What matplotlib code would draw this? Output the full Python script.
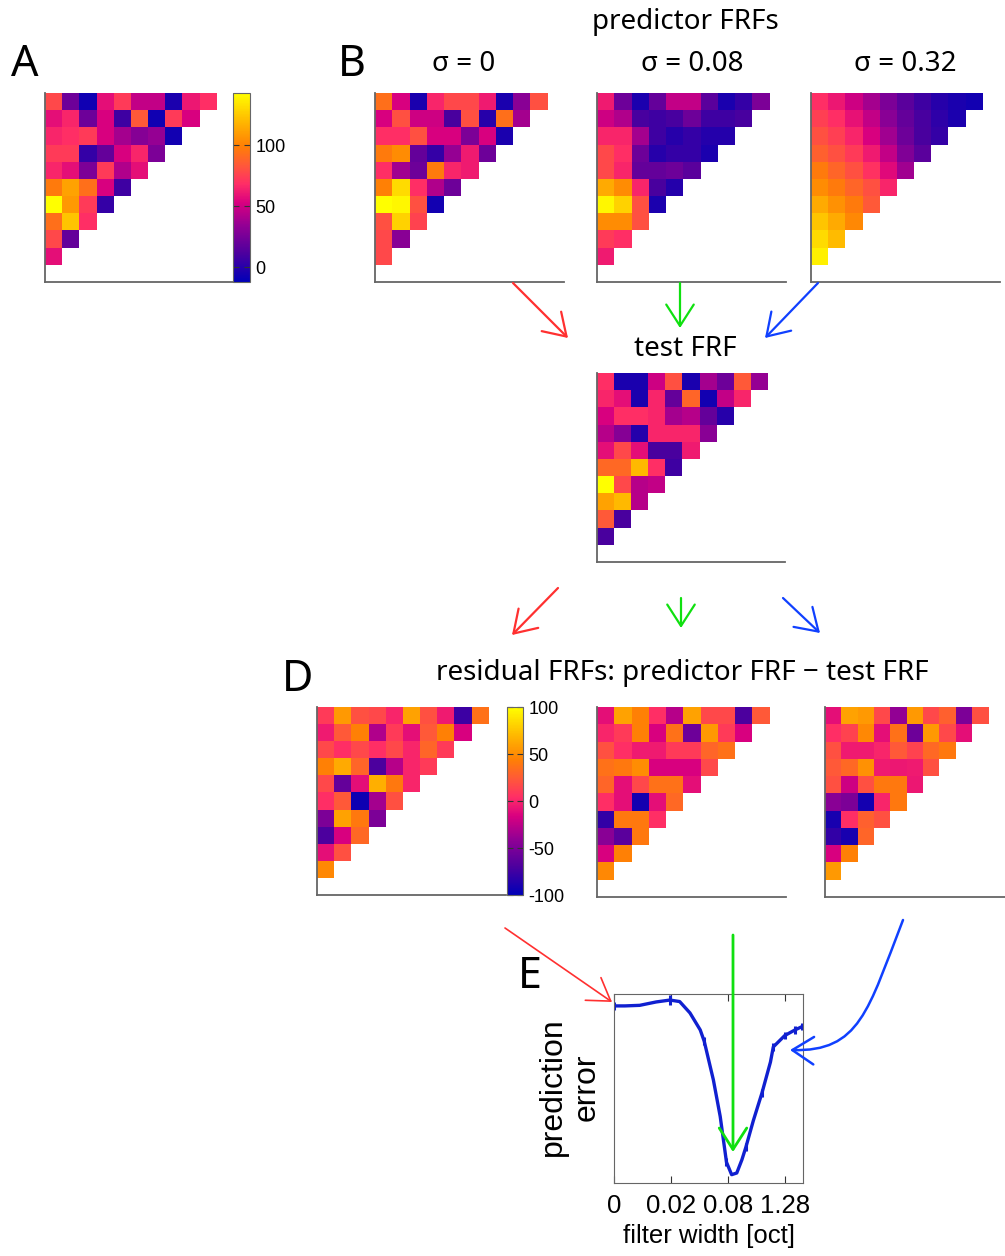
import numpy as np
import matplotlib
matplotlib.use("Agg")
import matplotlib.pyplot as plt
from matplotlib.colors import LinearSegmentedColormap
from matplotlib.patches import FancyArrowPatch
from matplotlib.path import Path

plt.rcParams["axes.unicode_minus"] = False

# ---- data (rows of the upper-left triangle, top row first) ----
frf_A = [
    [78, 22, -7, 58, 73, 47, 47, -3, 61, 69],
    [58, 66, 22, 53, 7, 84, -7, 73, 53],
    [66, 69, 73, 53, 39, 30, 35, -6],
    [73, 73, 4, 19, 53, 66, 27],
    [66, 58, 27, 73, 42, 58],
    [97, 112, 93, 53, 7],
    [143, 109, 73, 4],
    [93, 124, 69],
    [78, 19],
    [58],
]
frf_sigma0 = [
    [93, 53, -4, 66, 78, 78, 62, -4, 31, 81],
    [53, 81, 50, 50, 11, 81, 0, 93, 39],
    [69, 69, 81, 53, 53, 27, 53, -4],
    [97, 104, 19, 4, 35, 62, 22],
    [69, 38, 22, 97, 66, 62],
    [100, 131, 69, 42, 22],
    [143, 140, 81, -6],
    [81, 128, 76],
    [78, 31],
    [78],
]
frf_sigma008 = [
    [62, 22, -3, 19, 47, 47, 16, -4, 4, 27],
    [50, 42, 10, 7, 10, 22, 7, 7, 10],
    [66, 66, 39, 7, 0, 4, -1, -1],
    [78, 69, 22, 0, 4, 4, -3],
    [78, 66, 19, 19, 22, 16],
    [115, 104, 66, 11, -1],
    [140, 128, 81, -3],
    [104, 104, 81],
    [73, 69],
    [62],
]
frf_sigma032 = [
    [69, 61, 50, 39, 27, 16, 7, 0, -4, -6],
    [75, 69, 59, 47, 31, 19, 10, 2, -3],
    [81, 75, 66, 53, 38, 22, 11, 4],
    [87, 81, 73, 62, 47, 28, 16],
    [97, 89, 81, 70, 56, 38],
    [104, 97, 89, 81, 66],
    [115, 106, 97, 84],
    [124, 115, 103],
    [131, 121],
    [138],
]
frf_test = [
    [69, -4, -4, 50, 81, -4, 39, 22, 84, 35],
    [66, 58, -3, 66, 19, 89, -6, 47, 66],
    [53, 69, 69, 66, 39, 44, 19, 0],
    [44, 30, -1, 66, 66, 66, 31],
    [58, 78, 58, 11, 11, 62],
    [90, 90, 120, 69, 7],
    [143, 78, 44, 47],
    [112, 120, 44],
    [84, 11],
    [11],
]
resid_sigma0 = [
    [10, 56, 20, 16, 0, 60, 20, -4, -76, 36],
    [-4, 24, 44, -30, 10, -10, 24, 44, -16],
    [16, 4, 16, 4, 16, 0, 30, 10],
    [44, 64, 30, -70, -28, 0, 10],
    [16, -60, -10, 66, 40, 0],
    [4, 24, -94, -34, 20],
    [-50, 60, 40, -50],
    [-70, -16, 32],
    [-10, 20],
    [48],
]
resid_sigma008 = [
    [-10, 60, 44, 4, -28, 60, 16, 16, -70, 24],
    [0, 10, 44, -16, 36, -56, 56, 10, -16],
    [20, 4, -4, -4, 10, 10, 30, 36],
    [36, 40, 50, -16, -16, -16, 16],
    [30, -10, 16, 36, 36, -10],
    [4, -10, -92, -10, 32],
    [-80, 40, 40, 4],
    [-44, -64, 40],
    [-16, 44],
    [48],
]
resid_sigma032 = [
    [-10, 60, 56, 16, -40, 56, 16, 28, -50, 20],
    [4, 14, 48, -10, 36, -56, 56, 16, -10],
    [20, -4, -4, 0, 24, 14, 32, 40],
    [24, 32, 52, -4, -6, -4, 20],
    [20, -20, 20, 40, 40, -6],
    [-44, -50, -92, 0, 40],
    [-90, 4, 28, 20],
    [-80, -90, 30],
    [-16, 44],
    [56],
]

sigma_labels = ["σ = 0", "σ = 0.08", "σ = 0.32"]
rate_ticks = [0, 50, 100]
resid_ticks = [-100, -50, 0, 50, 100]

filt_pos = [0, 0.19, 0.45, 0.74, 0.98, 1.15, 1.33, 1.51, 1.58, 1.74, 1.86, 1.97,
            2.06, 2.15, 2.24, 2.31, 2.44, 2.59, 2.74, 2.79, 2.99, 3.17, 3.29]
pred_err = [0.937, 0.937, 0.94, 0.958, 0.968, 0.96, 0.9, 0.81, 0.75, 0.546, 0.352, 0.11,
            0.044, 0.053, 0.123, 0.19, 0.33, 0.475, 0.64, 0.72, 0.78, 0.81, 0.827]
pred_sem = [0.02, 0, 0, 0, 0.025, 0, 0, 0, 0.02, 0, 0, 0.02,
            0, 0, 0, 0.02, 0, 0.02, 0, 0.02, 0.02, 0.02, 0.02]
filt_tick_labels = ["0", "0.02", "0.08", "1.28"]

# ---- colormap ----
cmap = LinearSegmentedColormap.from_list("frf", [
    (0.0, (0.0, 0.0, 0.72)),
    (0.15, (0.30, 0.0, 0.62)),
    (0.30, (0.58, 0.0, 0.58)),
    (0.42, (0.85, 0.0, 0.50)),
    (0.52, (1.0, 0.18, 0.40)),
    (0.62, (1.0, 0.35, 0.22)),
    (0.72, (1.0, 0.50, 0.02)),
    (0.85, (1.0, 0.72, 0.0)),
    (1.0, (1.0, 1.0, 0.0)),
])
cmap.set_bad("white")

W, H = 1005, 1256
fig = plt.figure(figsize=(W / 100, H / 100), dpi=100)
title_font = "Noto Sans"
num_font = "Liberation Sans"
spine_col = "#666666"


def px_axes(x, y, w, h):
    return fig.add_axes([x / W, 1 - (y + h) / H, w / W, h / H])


def to_grid(rows):
    g = np.full((11, 11), np.nan)
    for r, row in enumerate(rows):
        g[r, :len(row)] = row
    return g


def heat(x, y, rows, vmin, vmax, w=189, h=189):
    ax = px_axes(x, y, w, h)
    im = ax.imshow(to_grid(rows), cmap=cmap, vmin=vmin, vmax=vmax,
                   extent=(0, 11, 11, 0), aspect="auto", interpolation="nearest")
    ax.set_xticks([])
    ax.set_yticks([])
    for s in ["top", "right"]:
        ax.spines[s].set_visible(False)
    for s in ["left", "bottom"]:
        ax.spines[s].set_color(spine_col)
        ax.spines[s].set_linewidth(1.3)
    return im


def cbar(im, x, y, w, h, ticks):
    cax = px_axes(x, y, w, h)
    cb = fig.colorbar(im, cax=cax, ticks=ticks)
    cb.outline.set_edgecolor(spine_col)
    cax.tick_params(direction="in", length=4, left=True, right=True,
                    color="#333333", labelsize=13, pad=4)
    for t in cax.get_yticklabels():
        t.set_fontfamily(num_font)


# panel A
imA = heat(45, 93, frf_A, -12, 143, w=188)
cbar(imA, 233, 93, 17, 189, rate_ticks)

# panel B
for xb, rows in zip([375, 597, 811], [frf_sigma0, frf_sigma008, frf_sigma032]):
    heat(xb, 93, rows, -12, 143)

# test FRF
heat(597, 373, frf_test, -12, 143, w=188)

# panel D
imD = heat(317, 707, resid_sigma0, -100, 100, h=188)
cbar(imD, 507, 707, 16, 188, resid_ticks)
heat(597, 707, resid_sigma008, -100, 100, h=190)
heat(825, 707, resid_sigma032, -100, 100, w=180, h=190)

# panel E
axE = px_axes(614, 994, 189, 189)
axE.errorbar(filt_pos, pred_err, yerr=pred_sem, color="#1020d0", lw=2.4,
             elinewidth=2.2, capsize=0)
axE.set_xlim(0, 3.31)
axE.set_ylim(0, 1)
axE.set_xticks(range(len(filt_tick_labels)))
axE.set_xticklabels(filt_tick_labels, fontfamily=num_font, fontsize=18.5)
axE.set_yticks([])
axE.tick_params(axis="x", direction="in", top=True, length=5, pad=8, color="#333333")
for s in axE.spines.values():
    s.set_color(spine_col)
axE.set_xlabel("filter width [oct]", fontfamily=num_font, fontsize=18.5, labelpad=4)

# overlay in pixel coordinates for labels and arrows
ov = fig.add_axes([0, 0, 1, 1], zorder=10)
ov.set_xlim(0, W)
ov.set_ylim(H, 0)
ov.axis("off")
ov.patch.set_alpha(0)

for lab, (lx, ly) in zip("ABDE", [(25, 65), (352, 65), (298, 680), (530, 977)]):
    ov.text(lx, ly, lab, fontsize=31, fontfamily=title_font, ha="center", va="center")

ov.text(685, 22, "predictor FRFs", fontsize=20, fontfamily=title_font, ha="center", va="center")
for sx, lab in zip([464, 692, 905], sigma_labels):
    ov.text(sx, 64, lab, fontsize=20, fontfamily=title_font, ha="center", va="center")
ov.text(685, 349, "test FRF", fontsize=20, fontfamily=title_font, ha="center", va="center")
ov.text(682, 673, "residual FRFs: predictor FRF \u2212 test FRF", fontsize=20,
        fontfamily=title_font, ha="center", va="center")
ov.text(570, 1087, "prediction\nerror", fontsize=23, fontfamily=num_font, rotation=90,
        ha="center", va="center", multialignment="center", linespacing=1.15)

red, green, blue = "#ff3030", "#10e010", "#1040ff"
arrows = [
    ((513, 283), (568, 338), red, 1.6),
    ((680, 283), (680, 328), green, 1.6),
    ((818, 283), (765, 338), blue, 1.6),
    ((558, 588), (512, 635), red, 1.6),
    ((681, 598), (681, 628), green, 1.6),
    ((783, 598), (820, 633), blue, 1.6),
    ((505, 928), (612, 1002), red, 1.2),
    ((733, 935), (733, 1152), green, 2.0),
]
for p0, p1, c, lw in arrows:
    ov.add_patch(FancyArrowPatch(p0, p1, arrowstyle="->,head_length=0.7,head_width=0.45",
                                 mutation_scale=22, color=c, lw=lw, shrinkA=0, shrinkB=0))

curve = Path([(903, 920), (868, 1010), (860, 1052), (790, 1050)],
             [Path.MOVETO, Path.CURVE4, Path.CURVE4, Path.CURVE4])
ov.add_patch(FancyArrowPatch(path=curve, arrowstyle="->,head_length=0.7,head_width=0.45",
                             mutation_scale=22, color=blue, lw=1.8))

fig.savefig("out.png", dpi=100)
